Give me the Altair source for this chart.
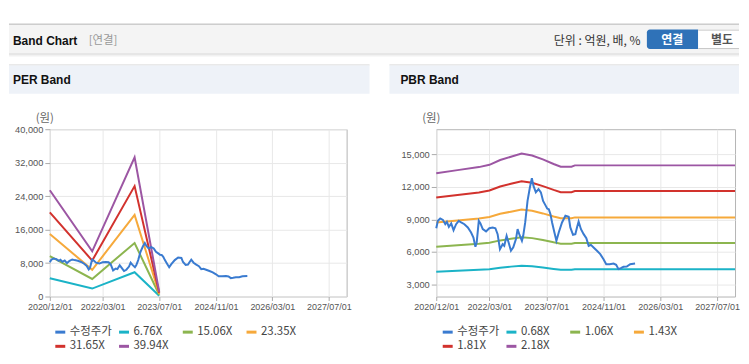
import altair as alt
import pandas as pd

# ---------------- data ----------------
price_dates = [
    "2020-12-01", "2020-12-15", "2021-01-04", "2021-01-27", "2021-02-16", "2021-03-02",
    "2021-03-19", "2021-04-08", "2021-04-28", "2021-05-20", "2021-06-12", "2021-07-02",
    "2021-07-30", "2021-08-28", "2021-09-25", "2021-10-15", "2021-11-01", "2021-11-12",
    "2021-11-30", "2021-12-14", "2022-01-03", "2022-01-31", "2022-02-28", "2022-03-29",
    "2022-04-21", "2022-05-10", "2022-05-30", "2022-06-22", "2022-07-06", "2022-07-26",
    "2022-08-12", "2022-09-01", "2022-09-21", "2022-10-14", "2022-10-28", "2022-11-11",
    "2022-12-04", "2022-12-15", "2023-01-01", "2023-01-21", "2023-02-10", "2023-02-27",
    "2023-03-13", "2023-04-02", "2023-04-25", "2023-05-15", "2023-06-03", "2023-06-26",
    "2023-07-08", "2023-07-22", "2023-08-05", "2023-08-19", "2023-09-08", "2023-09-25",
    "2023-10-15", "2023-11-12", "2023-12-11", "2024-01-08", "2024-01-22", "2024-02-14",
    "2024-03-05", "2024-03-19", "2024-04-02", "2024-04-22", "2024-05-15", "2024-06-07",
    "2024-06-27", "2024-07-16", "2024-08-08", "2024-09-06", "2024-10-04", "2024-11-01",
    "2024-11-24", "2024-12-23", "2025-01-26", "2025-02-17", "2025-03-09", "2025-03-29",
    "2025-04-21", "2025-05-19", "2025-06-17", "2025-07-29",
]
price_values = [
    8180, 8860, 9080, 8950, 8550, 8770,
    8310, 8620, 8000, 8550, 8860, 8710,
    8550, 8250, 7780, 7320, 6460, 6860,
    8860, 8620, 8090, 7880, 8180, 8250,
    8180, 7630, 6240, 6700, 6550, 7470,
    6860, 6090, 6400, 7170, 8090, 7630,
    7010, 7470, 8710, 10710, 11950, 12800,
    12100, 11500, 11800, 11500, 10700, 10250,
    10000, 9940, 9480, 8710, 7780, 7010,
    7780, 8710, 9330, 9230, 8250, 7570,
    7630, 8250, 8800, 8090, 7630, 7260,
    6550, 6640, 6400, 6090, 5780, 5310,
    4850, 4850, 4910, 4790, 4390, 4480,
    4600, 4630, 4850, 4910,
]

# PER band (원)
per_dates = ["2020-12-01", "2021-12-01", "2022-12-01", "2023-07-01"]
per_676 = [4350, 1900, 5800, 190]
per_1506 = [9650, 4200, 12800, 420]
per_2335 = [14950, 6400, 19500, 650]
per_3165 = [20100, 8600, 26400, 880]
per_3994 = [25400, 10800, 33300, 1100]

# PBR band (원)
pbr_dates = ["2020-12-01", "2021-06-01", "2021-12-01", "2022-03-01", "2022-06-01",
             "2022-09-01", "2022-12-01", "2023-03-01", "2023-06-01", "2023-09-01",
             "2023-11-01", "2024-02-01", "2024-03-01", "2027-12-01"]
pbr_068 = [4140, 4230, 4320, 4380, 4520, 4620, 4710, 4650, 4540, 4410, 4330, 4330, 4370, 4370]
pbr_106 = [6460, 6590, 6730, 6830, 7050, 7200, 7340, 7260, 7080, 6870, 6750, 6750, 6810, 6810]
pbr_143 = [8710, 8890, 9080, 9220, 9510, 9710, 9900, 9790, 9550, 9270, 9100, 9100, 9180, 9180]
pbr_181 = [11030, 11260, 11490, 11670, 12040, 12290, 12530, 12390, 12080, 11730, 11520, 11520, 11620, 11620]
pbr_218 = [13280, 13560, 13840, 14050, 14500, 14800, 15090, 14920, 14550, 14130, 13880, 13880, 14000, 14000]

per_labels = ["수정주가", "6.76X", "15.06X", "23.35X", "31.65X", "39.94X"]
pbr_labels = ["수정주가", "0.68X", "1.06X", "1.43X", "1.81X", "2.18X"]
series_colors = ["#3a7bd0", "#1bb3c7", "#8cb54f", "#f6a93b", "#d2322d", "#9c56a3"]

x_ticks = ["2020-12-01", "2022-03-01", "2023-07-01", "2024-11-01", "2026-03-01", "2027-07-01"]
x_domain = ["2020-12-01", "2027-12-01"]
per_y_ticks = [0, 8000, 16000, 24000, 32000, 40000]
per_y_domain = [0, 40000]
pbr_y_ticks = [3000, 6000, 9000, 12000, 15000]
pbr_y_domain = [1850, 17350]


# ---------------- helpers ----------------
def dt(s):
    return alt.DateTime(year=int(s[:4]), month=int(s[5:7]), date=int(s[8:10]))


def long_df(dates, series):
    rows = []
    for name, vals in series:
        for d, v in zip(dates, vals):
            rows.append({"date": d + "T00:00:00", "value": v, "series": name})
    return pd.DataFrame(rows)


one = pd.DataFrame({"k": [0]})
KR = "Noto Sans CJK KR"
LAT = "Liberation Sans"


def rect(x1, x2, y1, y2, **kw):
    return alt.Chart(one).mark_rect(**kw).encode(
        x=alt.value(x1), x2=alt.value(x2), y=alt.value(y1), y2=alt.value(y2))


def hline(x1, x2, y, color, w):
    return alt.Chart(one).mark_rule(color=color, strokeWidth=w).encode(
        x=alt.value(x1), x2=alt.value(x2), y=alt.value(y))


def label(x, y, text, **kw):
    return alt.Chart(one).mark_text(text=text, baseline="middle", **kw).encode(
        x=alt.value(x), y=alt.value(y))


def band_panel(bands_df, price_df, labels, ydom, yticks, legend_x):
    color = alt.Color(
        "series:N",
        scale=alt.Scale(domain=labels, range=series_colors),
        legend=alt.Legend(
            title=None, orient="none", legendX=legend_x, legendY=197,
            direction="horizontal", columns=4, symbolType="stroke",
            symbolSize=100, symbolStrokeWidth=3, labelFont=KR,
            labelFontSize=11.5, labelColor="#444", labelOffset=3,
            columnPadding=0, rowPadding=1.5, gridAlign="all", padding=0,
        ),
    )
    x = alt.X(
        "date:T", title=None,
        scale=alt.Scale(domain=[dt(s) for s in x_domain], nice=False),
        axis=alt.Axis(values=[dt(s) for s in x_ticks], format="%Y/%m/%d",
                      labelAngle=0, labelFlush=False, labelOverlap=False,
                      tickSize=4, labelPadding=2, domain=False,
                      tickColor="#aaaaaa", gridColor="#e8e8e8",
                      labelFont=LAT, labelFontSize=9, labelColor="#555555"),
    )
    y = alt.Y(
        "value:Q", title=None,
        scale=alt.Scale(domain=ydom, nice=False, zero=False),
        axis=alt.Axis(values=yticks, format=",d", tickSize=5, labelPadding=2,
                      domain=False, tickColor="#aaaaaa", gridColor="#e8e8e8",
                      labelFont=LAT, labelFontSize=9.3, labelColor="#555555"),
    )
    bands = alt.Chart(bands_df).mark_line(strokeWidth=2).encode(x=x, y=y, color=color)
    price = alt.Chart(price_df).mark_line(strokeWidth=2).encode(x=x, y=y, color=color)
    return bands, price


price_df_per = pd.DataFrame({"date": [d + "T00:00:00" for d in price_dates],
                             "value": price_values, "series": per_labels[0]})
price_df_pbr = pd.DataFrame({"date": [d + "T00:00:00" for d in price_dates],
                             "value": price_values, "series": pbr_labels[0]})

per_df = long_df(per_dates, [(per_labels[1], per_676), (per_labels[2], per_1506),
                             (per_labels[3], per_2335), (per_labels[4], per_3165),
                             (per_labels[5], per_3994)])
pbr_df = long_df(pbr_dates, [(pbr_labels[1], pbr_068), (pbr_labels[2], pbr_106),
                             (pbr_labels[3], pbr_143), (pbr_labels[4], pbr_181),
                             (pbr_labels[5], pbr_218)])

# ---------------- left panel (PER) ; plot origin at page (49,128) ----------------
RIGHT = 692  # page x 741 : keep the page inside the 749px window
per_bands, per_price = band_panel(per_df, price_df_per, per_labels,
                                  per_y_domain, per_y_ticks, 4)
left_decor = [
    rect(-41, RIGHT, -106, -76, fill="#f4f4f4"),
    hline(-41, RIGHT, -105.5, "#b8b8b8", 1),
    hline(-41, RIGHT, -75.5, "#d2d2d2", 1),
    hline(-41, RIGHT, -74.5, "#e4e4e4", 1),
    hline(-41, RIGHT, -73.5, "#f1f1f1", 1),
    label(-37, -89, "Band Chart", font=LAT, fontSize=12, fontWeight="bold",
          color="#111111", align="left"),
    label(39, -89, "[연결]", font=KR, fontSize=11.5, color="#999999", align="left"),
    label(593, -89, "단위 : 억원, 배, %", font=KR, fontSize=12, color="#333333",
          align="right"),
    rect(599.5, 651, -100, -80.5, fill="#2f72b8", cornerRadiusTopLeft=3,
         cornerRadiusBottomLeft=3),
    rect(651, RIGHT, -100, -80.5, fill="#ffffff"),
    hline(651, RIGHT, -99.5, "#c8c8c8", 1),
    hline(651, RIGHT, -81, "#c8c8c8", 1),
    label(625, -89.5, "연결", font=KR, fontSize=12, fontWeight="bold",
          color="#ffffff", align="center"),
    label(675, -89.5, "별도", font=KR, fontSize=12, fontWeight="bold",
          color="#555555", align="center"),
    hline(-41, 321, -64.5, "#d6d6d6", 1),
    rect(-41, 321, -64, -35.5, fill="#eef2f8"),
    label(-37, -49, "PER Band", font=LAT, fontSize=12, fontWeight="bold",
          color="#111111", align="left"),
    label(-5, -10, "(원)", font=KR, fontSize=11.5, color="#666666", align="center"),
]
left = alt.layer(*left_decor, per_bands, per_price).properties(width=298, height=168)

# ---------------- right panel (PBR) ; plot origin at page (437,128) ----------------
pbr_bands, pbr_price = band_panel(pbr_df, price_df_pbr, pbr_labels,
                                  pbr_y_domain, pbr_y_ticks, 5)
right_decor = [
    hline(-47, 304, -64.5, "#d6d6d6", 1),
    rect(-47, 304, -64, -35.5, fill="#eef2f8"),
    label(-36, -49, "PBR Band", font=LAT, fontSize=12, fontWeight="bold",
          color="#111111", align="left"),
    label(-5, -10, "(원)", font=KR, fontSize=11.5, color="#666666", align="center"),
]
right = alt.layer(*right_decor, pbr_bands, pbr_price).properties(width=300, height=168)

chart = (
    alt.hconcat(left, right, spacing=90, bounds="flush")
    .resolve_scale(color="independent", x="independent", y="independent")
    .resolve_legend(color="independent")
    .properties(padding={"left": 0, "top": 14, "right": 0, "bottom": 0},
                background="#ffffff")
    .configure_view(stroke="#b4b4b4", strokeWidth=1)
)

chart.save("out.html", embed_options={"renderer": "svg", "actions": False})
